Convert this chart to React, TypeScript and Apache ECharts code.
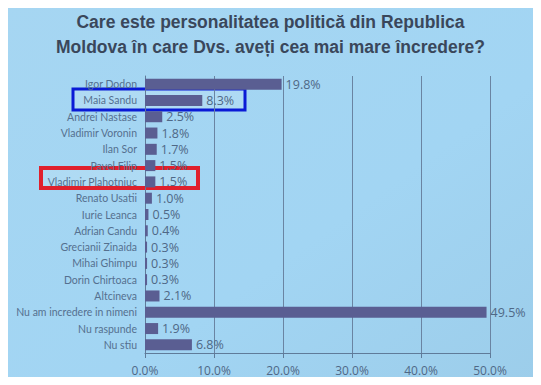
import React, { useEffect, useRef } from "react";
import * as echarts from "echarts";

const categories = [
  "Igor Dodon",
  "Maia Sandu",
  "Andrei Nastase",
  "Vladimir Voronin",
  "Ilan Sor",
  "Pavel Filip",
  "Vladimir Plahotniuc",
  "Renato Usatii",
  "Iurie Leanca",
  "Adrian Candu",
  "Grecianii Zinaida",
  "Mihai Ghimpu",
  "Dorin Chirtoaca",
  "Altcineva",
  "Nu am incredere in nimeni",
  "Nu raspunde",
  "Nu stiu",
];
const values = [19.8, 8.3, 2.5, 1.8, 1.7, 1.5, 1.5, 1.0, 0.5, 0.4, 0.3, 0.3, 0.3, 2.1, 49.5, 1.9, 6.8];
const titleLines = [
  "Care este personalitatea politică din Republica",
  "Moldova în care Dvs. aveți cea mai mare încredere?",
];

export default function App() {
  const ref = useRef<HTMLDivElement>(null);
  useEffect(() => {
    const chart = echarts.init(ref.current!, null, { renderer: "svg" });
    chart.setOption({
      animation: false,
      backgroundColor: {
        type: "linear",
        x: 0,
        y: 0,
        x2: 1,
        y2: 1,
        colorStops: [
          { offset: 0, color: "#a6d6f2" },
          { offset: 0.6, color: "#a2d5f3" },
          { offset: 1, color: "#9ccdea" },
        ],
      },
      title: {
        text: titleLines.join("\n"),
        left: "center",
        top: 4,
        padding: [5, 24, 5, 0],
        textStyle: {
          fontFamily: "Liberation Sans, Arial, sans-serif",
          fontWeight: "bold",
          fontSize: 17.5,
          lineHeight: 25,
          color: "#3a475b",
        },
      },
      grid: { left: 145, right: 51, top: 76, bottom: 32, containLabel: false },
      xAxis: {
        type: "value",
        min: 0,
        max: 50,
        interval: 10,
        axisLine: { show: true, lineStyle: { color: "#5f7b99", width: 1 } },
        axisTick: { show: true, length: 5, lineStyle: { color: "#5f7b99" } },
        splitLine: { show: true, lineStyle: { color: "#6a84a2", width: 1 } },
        axisLabel: {
          formatter: (v: number) => v.toFixed(1) + "%",
          color: "#4f6886",
          fontSize: 12,
          fontFamily: "Open Sans, sans-serif",
          margin: 11,
        },
      },
      yAxis: {
        type: "category",
        data: categories,
        inverse: true,
        axisLine: { show: true, lineStyle: { color: "#5f7b99" } },
        axisTick: { show: false },
        axisLabel: {
          color: "#55708f",
          fontSize: 10.5,
          fontFamily: "Lato, sans-serif",
          margin: 8,
        },
      },
      series: [
        {
          type: "bar",
          data: values,
          barWidth: 11,
          itemStyle: { color: "#5a5e92" },
          label: {
            show: true,
            position: "right",
            distance: 4,
            formatter: (p: any) => p.value.toFixed(1) + "%",
            color: "#4f6886",
            fontSize: 12.5,
            fontFamily: "Open Sans, sans-serif",
          },
        },
      ],
      graphic: [
        {
          type: "rect",
          shape: { x: 73, y: 89, width: 172, height: 21 },
          style: { fill: "rgba(255,255,255,0.12)", stroke: "#0a1ad6", lineWidth: 3 },
        },
        {
          type: "rect",
          shape: { x: 41, y: 168, width: 157, height: 20 },
          style: { fill: "rgba(255,255,255,0.12)", stroke: "#e0202c", lineWidth: 4 },
        },
      ],
    });
    return () => chart.dispose();
  }, []);
  return <div ref={ref} style={{ width: 541, height: 385, margin: -8 }} />;
}
